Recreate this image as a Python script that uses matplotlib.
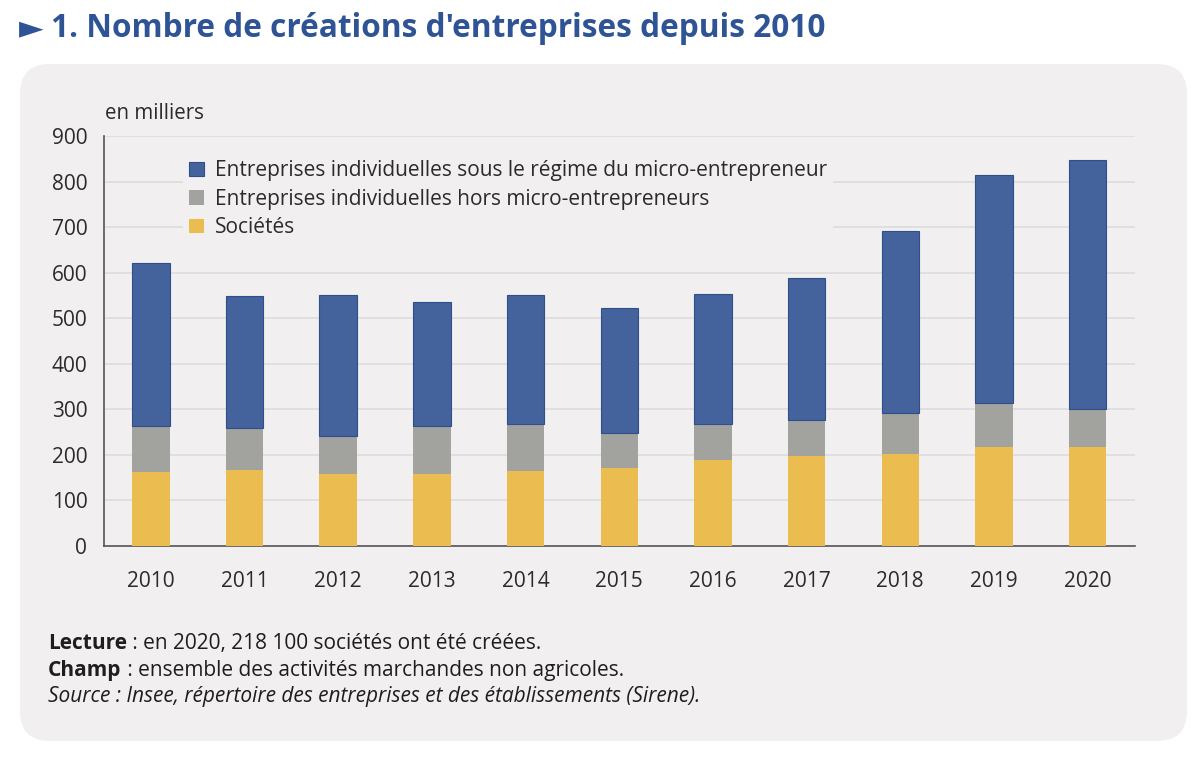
import matplotlib
matplotlib.use("Agg")
import matplotlib.pyplot as plt
from matplotlib.patches import FancyBboxPatch

# ---- data (thousands) ----
years = ["2010", "2011", "2012", "2013", "2014", "2015", "2016", "2017", "2018", "2019", "2020"]
societes = [163, 166, 159, 158, 165, 171, 188, 197, 202, 218, 218]
ei_hors_micro = [100, 92, 83, 105, 102, 76, 80, 79, 90, 96, 82]
micro = [358, 291, 308, 273, 283, 276, 285, 313, 399, 501, 548]
labels = ["Entreprises individuelles sous le régime du micro-entrepreneur",
          "Entreprises individuelles hors micro-entrepreneurs",
          "Sociétés"]
yticks = [0, 100, 200, 300, 400, 500, 600, 700, 800, 900]

BLUE = "#44639c"
GRAY = "#a2a29e"
YELLOW = "#ebbd50"
PANEL = "#f1eff0"
TXT = "#2b2b2b"
TITLE = "#2f5496"

plt.rcParams["font.family"] = ["Open Sans", "DejaVu Sans"]

W, H = 1200, 761
fig = plt.figure(figsize=(W / 100, H / 100), dpi=100)
fig.patch.set_facecolor("white")

# background axes in pixel coordinates (y downward)
bg = fig.add_axes([0, 0, 1, 1])
bg.set_xlim(0, W)
bg.set_ylim(H, 0)
bg.axis("off")
r = 30
bg.add_patch(FancyBboxPatch((20 + r, 64 + r), 1167 - 2 * r, 677 - 2 * r,
                            boxstyle=f"round,pad={r}", fc=PANEL, ec="none"))

bg.text(19, 37, "►", color=TITLE, fontsize=23, va="baseline", ha="left",
        family=["DejaVu Sans"])
bg.text(51, 37, "1. Nombre de créations d'entreprises depuis 2010", color=TITLE,
        fontsize=22.8, fontweight="bold", va="baseline", ha="left")
bg.text(105, 119, "en milliers", color=TXT, fontsize=14.8, va="baseline", ha="left")

# footnotes
def bold_then(x, y, bold, rest):
    t = bg.text(x, y, bold, fontsize=15, fontweight="bold", color="#1e1e1e",
                va="baseline", ha="left")
    bg.annotate(rest, xy=(1, 0), xycoords=t, va="bottom", ha="left",
                fontsize=15, color="#1e1e1e")

bold_then(48, 649, "Lecture", " : en 2020, 218 100 sociétés ont été créées.")
bold_then(48, 676, "Champ", " : ensemble des activités marchandes non agricoles.")
bg.text(48, 702, "Source : Insee, répertoire des entreprises et des établissements (Sirene).",
        fontsize=15, style="italic", color="#1e1e1e", va="baseline", ha="left")

# main axes
ax = fig.add_axes([104 / W, (H - 546) / H, 1030.5 / W, 410 / H])
ax.set_facecolor("none")
x = list(range(len(years)))
bw = 0.4
b3 = ax.bar(x, societes, bw, color=YELLOW, zorder=3, label=labels[2])
b2 = ax.bar(x, ei_hors_micro, bw, bottom=societes, color=GRAY, zorder=3, label=labels[1])
bottom2 = [a + b for a, b in zip(societes, ei_hors_micro)]
b1 = ax.bar(x, micro, bw, bottom=bottom2, color=BLUE, edgecolor="#2f4f8c",
            linewidth=0.8, zorder=3, label=labels[0])

ax.set_xlim(-0.5, 10.5)
ax.set_ylim(0, 900)
ax.set_yticks(yticks)
ax.set_xticks(x)
ax.set_xticklabels(years)
ax.tick_params(axis="y", length=0, pad=12, labelsize=15, colors=TXT)
ax.tick_params(axis="x", length=0, pad=18, labelsize=15, colors=TXT)
ax.yaxis.grid(True, color="#dcdbdc", linewidth=1.1, zorder=0)
ax.set_axisbelow(True)
for s in ["top", "right"]:
    ax.spines[s].set_visible(False)
for s in ["left", "bottom"]:
    ax.spines[s].set_color("#555555")
    ax.spines[s].set_linewidth(1.2)

leg = ax.legend(handles=[b1, b2, b3], labels=labels, loc="upper left",
                bbox_to_anchor=(183 / W, (H - 154) / H), bbox_transform=fig.transFigure,
                frameon=True, facecolor=PANEL, edgecolor="none", framealpha=1,
                fancybox=False, fontsize=15, handlelength=0.72, handleheight=0.72,
                handletextpad=0.5, labelspacing=0.36, borderpad=0.3,
                borderaxespad=0)
for t in leg.get_texts():
    t.set_color(TXT)
leg.set_zorder(5)

fig.savefig("out.png", dpi=100, facecolor="white")
